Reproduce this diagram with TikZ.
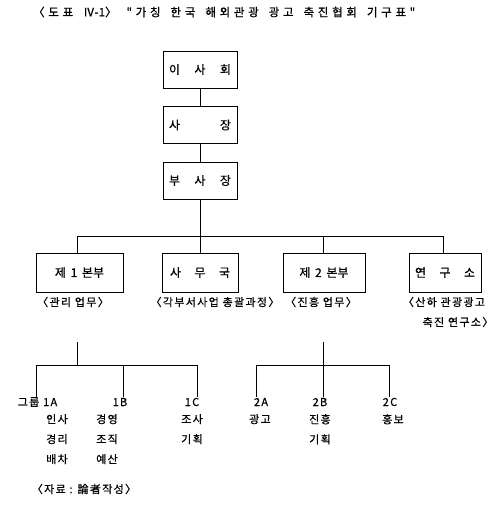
\documentclass[tikz,border=0pt]{standalone}
\usepackage{fontspec}
\setmainfont{Noto Sans CJK KR}
\newfontfamily\kr[FakeBold=0.6]{Noto Sans CJK KR}
\newfontfamily\krwide[LetterSpace=12,FakeBold=0.6]{Noto Sans CJK KR}
\newfontfamily\krtitle[LetterSpace=32,FakeBold=0.6]{Noto Sans CJK KR}
\newcommand{\tsp}{\hspace{10pt}}
\begin{document}
\begin{tikzpicture}[x=1pt,y=-1pt,
  box/.style={draw,line width=0.8pt,minimum height=37pt,inner sep=0pt,font=\kr\fontsize{12}{14}\selectfont},
  lbl/.style={inner sep=0pt,font=\krwide\fontsize{11}{13}\selectfont},
  item/.style={inner sep=0pt,anchor=north,align=center,font=\krwide\fontsize{11}{20}\selectfont},
  conn/.style={line width=0.8pt}]
\useasboundingbox (0,0) rectangle (499,507);
\fill[white] (0,0) rectangle (499,507);
% title
\node[inner sep=0pt,anchor=west,font=\krtitle\fontsize{11.5}{13}\selectfont] (title) at (33,12) {〈도표\tsp{\kr Ⅳ-1}〉\tsp"가칭\tsp 한국\tsp 해외관광\tsp 광고\tsp 축진협회\tsp 기구표"};
% top boxes
\node[box,minimum width=74pt] (b1) at (200,69.5) {\makebox[62pt]{이\hfill 사\hfill 회}};
\node[box,minimum width=74pt] (b2) at (200,125) {\makebox[62pt]{사\hfill 장}};
\node[box,minimum width=74pt] (b3) at (200,180.5) {\makebox[62pt]{부\hfill 사\hfill 장}};
% second level
\node[box,minimum width=87pt,minimum height=39pt] (d1) at (79.5,272.5) {제 \,1\, 본부};
\node[box,minimum width=76pt,minimum height=39pt] (d2) at (200,272.5) {\makebox[60pt]{사\hfill 무\hfill 국}};
\node[box,minimum width=82pt,minimum height=39pt] (d3) at (324,272.5) {제 \,2\, 본부};
\node[box,minimum width=72pt,minimum height=39pt] (d4) at (445,272.5) {\makebox[60pt]{연\hfill 구\hfill 소}};
% labels
\node[lbl] (l1) at (73,302) {〈관리 업무〉};
\node[lbl] (l2) at (215,302) {〈각부서사업 총괄과정〉};
\node[lbl] (l3) at (321,302) {〈진흥 업무〉};
\node[lbl] (l4a) at (444,302) {〈산하 관광광고};
\node[lbl] (l4b) at (458,322) {축진 연구소〉};
% connectors top
\coordinate (barL) at (77,236);
\coordinate (barM) at (200,236);
\coordinate (barR) at (443,236);
\coordinate (barC) at (323,236);
\draw[conn] (b1) -- (b2);
\draw[conn] (b2) -- (b3);
\draw[conn] (b3) -- (barM);
\draw[conn] (barL) -- (barR);
\draw[conn] (barL) -- (d1.north -| barL);
\draw[conn] (barM) -- (d2.north -| barM);
\draw[conn] (barC) -- (d3.north -| barC);
\draw[conn] (barR) -- (d4.north -| barR);
% lower left tree
\coordinate (t1) at (77,342);
\coordinate (j1) at (77,365);
\coordinate (j1a) at (36,365);
\coordinate (j1b) at (123,365);
\coordinate (j1c) at (197,365);
\coordinate (e1a) at (36,397);
\coordinate (e1b) at (123,397);
\coordinate (e1c) at (197,397);
\draw[conn] (t1) -- (j1);
\draw[conn] (j1a) -- (j1c);
\draw[conn] (j1a) -- (e1a);
\draw[conn] (j1b) -- (e1b);
\draw[conn] (j1c) -- (e1c);
\node[lbl] (g1a) at (37.5,402) {그룹 1A};
\node[lbl] (g1b) at (120,402) {1B};
\node[lbl] (g1c) at (192,402) {1C};
\node[item] (i1a) at (57,414) {인사\\경리\\배차};
\node[item] (i1b) at (107,414) {경영\\조직\\예산};
\node[item] (i1c) at (192,414) {조사\\기획};
% lower right tree
\coordinate (t2) at (323,342);
\coordinate (j2) at (323,365);
\coordinate (j2a) at (256,365);
\coordinate (j2c) at (389,365);
\coordinate (e2a) at (256,397);
\coordinate (e2b) at (323,397);
\coordinate (e2c) at (389,397);
\draw[conn] (t2) -- (e2b);
\draw[conn] (j2a) -- (j2c);
\draw[conn] (j2a) -- (e2a);
\draw[conn] (j2c) -- (e2c);
\node[lbl] (g2a) at (261,402) {2A};
\node[lbl] (g2b) at (320,402) {2B};
\node[lbl] (g2c) at (390,402) {2C};
\node[item] (i2a) at (260,414) {광고};
\node[item] (i2b) at (320,414) {진흥\\기획};
\node[item] (i2c) at (393,414) {홍보};
% source
\node[lbl] (src) at (84,489) {〈자료 : 論者작성〉};
\end{tikzpicture}
\end{document}
